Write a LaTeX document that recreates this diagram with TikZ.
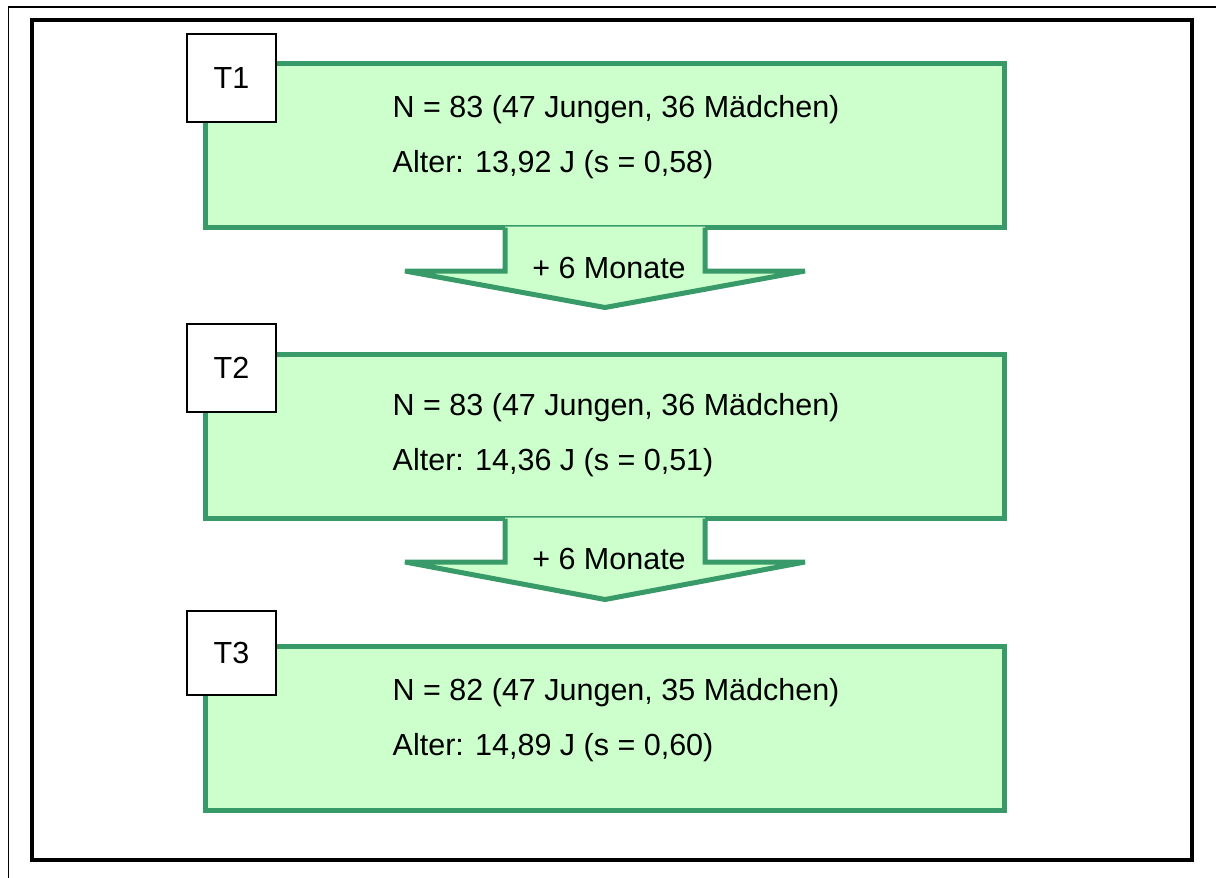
\documentclass[tikz,border=0pt]{standalone}
\usepackage{fontspec}
\setmainfont{Liberation Sans}
\usetikzlibrary{calc}
\definecolor{stagefill}{HTML}{CCFFCC}
\definecolor{stageline}{HTML}{389A68}
\tikzset{
  stagebox/.style={draw=stageline, fill=stagefill, line width=5pt, inner sep=0pt,
    minimum width=799pt, minimum height=164pt},
  tagbox/.style={draw=black, fill=white, line width=1.8pt, inner sep=0pt,
    minimum width=89pt, minimum height=88pt, font=\fontsize{30.5}{36}\selectfont},
  info/.style={anchor=base west, inner sep=0pt, font=\fontsize{30.5}{36}\selectfont},
  steplabel/.style={anchor=base, inner sep=0pt, font=\fontsize{30.5}{36}\selectfont},
  arrowfill/.style={fill=stagefill, draw=none},
  arrowline/.style={draw=stageline, line width=5pt, line join=miter},
}
\begin{document}
\begin{tikzpicture}[x=1pt, y=-1pt]
\useasboundingbox (0,0) rectangle (1216,878);
% page frame
\draw[line width=1.3pt] (8.5,878) -- (8.5,7) -- (1216,7);
\draw[line width=4.5pt] (32,20) rectangle (1192,860);

% stages
\node[stagebox] (b1) at (605,145.5) {};
\node[stagebox] (b2) at (605,436.5) {};
\node[stagebox] (b3) at (605,728.5) {};

% arrows between stages
\foreach \a/\b in {b1/b2, b2/b3} {
  \fill[arrowfill] ($(\a.south)+(-100,-3.5)$) -- ($(\a.south)+(-100,41)$)
    -- ($(\a.south)+(-200,41)$) -- ($(\b.north)+(0,-44.5)$)
    -- ($(\a.south)+(200,41)$) -- ($(\a.south)+(100,41)$)
    -- ($(\a.south)+(100,-3.5)$) -- cycle;
  \draw[arrowline] ($(\a.south)+(-100,-2.5)$) -- ($(\a.south)+(-100,41)$)
    -- ($(\a.south)+(-200,41)$) -- ($(\b.north)+(0,-44.5)$)
    -- ($(\a.south)+(200,41)$) -- ($(\a.south)+(100,41)$)
    -- ($(\a.south)+(100,-2.5)$);
}
\node[steplabel] (m1) at ($(b1.south)+(4,48.5)$) {+ 6 Monate};
\node[steplabel] (m2) at ($(b2.south)+(4,48.5)$) {+ 6 Monate};

% time point tags
\node[tagbox] (t1) at (231.5,78) {T1};
\node[tagbox] (t2) at (231.5,368) {T2};
\node[tagbox, minimum height=84pt] (t3) at (231.5,653) {T3};

% sample descriptions
\node[info] (n1) at ($(b1.north west)+(189.5,56.5)$) {N = 83 (47 Jungen, 36 Mädchen)};
\node[info] (a1) at ($(b1.north west)+(189.5,111.5)$) {Alter: 13,92 J (s = 0,58)};
\node[info] (n2) at ($(b2.north west)+(189.5,63.5)$) {N = 83 (47 Jungen, 36 Mädchen)};
\node[info] (a2) at ($(b2.north west)+(189.5,118.5)$) {Alter: 14,36 J (s = 0,51)};
\node[info] (n3) at ($(b3.north west)+(189.5,56.5)$) {N = 82 (47 Jungen, 35 Mädchen)};
\node[info] (a3) at ($(b3.north west)+(189.5,111.5)$) {Alter: 14,89 J (s = 0,60)};
\end{tikzpicture}
\end{document}
